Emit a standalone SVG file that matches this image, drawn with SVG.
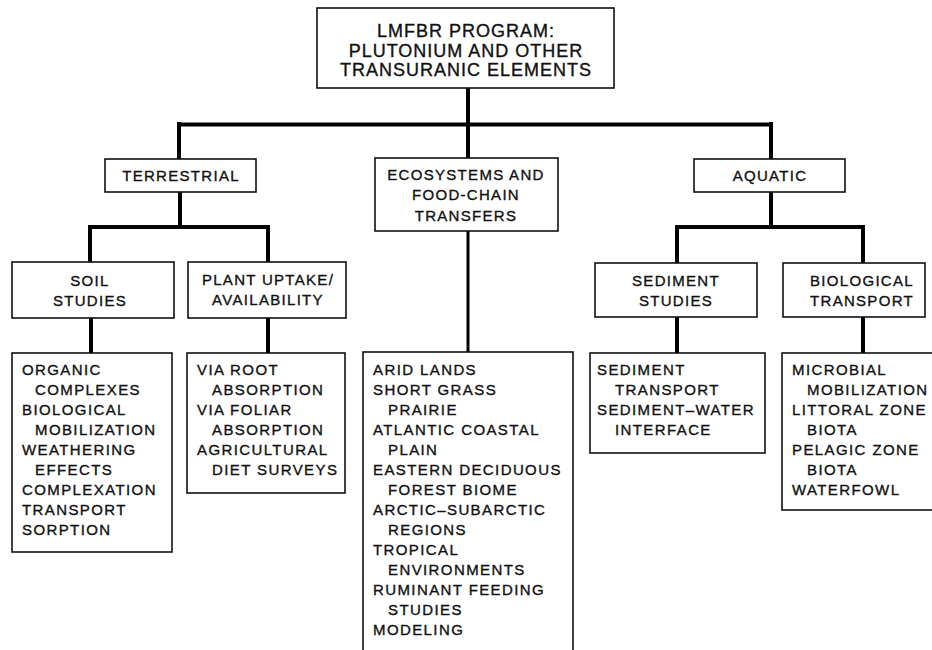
<svg xmlns="http://www.w3.org/2000/svg" width="932" height="650" viewBox="0 0 932 650">
<style>
  .box { fill: #ffffff; stroke: #111111; stroke-width: 1.6; }
  .conn { stroke: #000000; stroke-width: 4; fill: none; stroke-linecap: square; }
  .conn2 { stroke: #000000; stroke-width: 3; fill: none; }
  text { font-family: "Liberation Sans", Arial, sans-serif; fill: #111111; stroke: #111111; stroke-width: 0.35px; }
  .title { font-size: 18px; letter-spacing: 1px; text-anchor: middle; }
  .hdr { font-size: 15px; letter-spacing: 1.3px; text-anchor: middle; }
  .lst { font-size: 15px; letter-spacing: 1.4px; }
</style>
<rect width="932" height="650" fill="#ffffff"/>

<g id="connectors">
  <line class="conn" x1="468" y1="88" x2="468" y2="124"/>
  <line class="conn" x1="179" y1="124.5" x2="771" y2="124.5"/>
  <line class="conn" x1="179" y1="124" x2="179" y2="159"/>
  <line class="conn" x1="771" y1="124" x2="771" y2="159"/>
  <line class="conn" x1="468" y1="124" x2="468" y2="158"/>
  <line class="conn" x1="180" y1="192" x2="180" y2="227"/>
  <line class="conn" x1="90" y1="227" x2="268" y2="227"/>
  <line class="conn" x1="90" y1="227" x2="90" y2="262"/>
  <line class="conn" x1="268" y1="227" x2="268" y2="262"/>
  <line class="conn" x1="91" y1="318" x2="91" y2="353"/>
  <line class="conn" x1="268" y1="318" x2="268" y2="353"/>
  <line class="conn2" x1="468" y1="231" x2="468" y2="352"/>
  <line class="conn" x1="771" y1="192" x2="771" y2="227"/>
  <line class="conn" x1="677" y1="227" x2="863" y2="227"/>
  <line class="conn" x1="677" y1="227" x2="677" y2="263"/>
  <line class="conn" x1="863" y1="227" x2="863" y2="263"/>
  <line class="conn" x1="677" y1="317" x2="677" y2="353"/>
  <line class="conn" x1="863" y1="317" x2="863" y2="353"/>
</g>

<g id="root">
  <rect class="box" x="317" y="8" width="297" height="80"/>
  <text class="title" x="466" y="37">LMFBR PROGRAM:</text>
  <text class="title" x="466" y="56.5">PLUTONIUM AND OTHER</text>
  <text class="title" x="466" y="75.5">TRANSURANIC ELEMENTS</text>
</g>

<g id="terrestrial">
  <rect class="box" x="105" y="159" width="151" height="33"/>
  <text class="hdr" x="181" y="181">TERRESTRIAL</text>
</g>

<g id="ecosystems">
  <rect class="box" x="375" y="158" width="183" height="73"/>
  <text class="hdr" x="466" y="180">ECOSYSTEMS AND</text>
  <text class="hdr" x="466" y="200">FOOD-CHAIN</text>
  <text class="hdr" x="466" y="221">TRANSFERS</text>
</g>

<g id="aquatic">
  <rect class="box" x="694" y="159" width="151" height="33"/>
  <text class="hdr" x="770" y="181">AQUATIC</text>
</g>

<g id="soil-studies">
  <rect class="box" x="12" y="262" width="162" height="56"/>
  <text class="hdr" x="90" y="286">SOIL</text>
  <text class="hdr" x="90" y="306">STUDIES</text>
</g>

<g id="plant-uptake">
  <rect class="box" x="188" y="262" width="158" height="56"/>
  <text class="hdr" x="268" y="285">PLANT UPTAKE/</text>
  <text class="hdr" x="268" y="305">AVAILABILITY</text>
</g>

<g id="sediment-studies">
  <rect class="box" x="595" y="263" width="162" height="54"/>
  <text class="hdr" x="676" y="286">SEDIMENT</text>
  <text class="hdr" x="676" y="306">STUDIES</text>
</g>

<g id="biological-transport">
  <rect class="box" x="783" y="263" width="142" height="54"/>
  <text class="hdr" x="862" y="286">BIOLOGICAL</text>
  <text class="hdr" x="862" y="306">TRANSPORT</text>
</g>

<g id="soil-list">
  <rect class="box" x="12" y="353" width="160" height="199"/>
  <text class="lst" x="22" y="375">ORGANIC</text>
  <text class="lst" x="35" y="395">COMPLEXES</text>
  <text class="lst" x="22" y="415">BIOLOGICAL</text>
  <text class="lst" x="35" y="435">MOBILIZATION</text>
  <text class="lst" x="22" y="455">WEATHERING</text>
  <text class="lst" x="35" y="475">EFFECTS</text>
  <text class="lst" x="22" y="495">COMPLEXATION</text>
  <text class="lst" x="22" y="515">TRANSPORT</text>
  <text class="lst" x="22" y="535">SORPTION</text>
</g>

<g id="plant-list">
  <rect class="box" x="187" y="353" width="158" height="140"/>
  <text class="lst" x="197" y="375">VIA ROOT</text>
  <text class="lst" x="212" y="395">ABSORPTION</text>
  <text class="lst" x="197" y="415">VIA FOLIAR</text>
  <text class="lst" x="212" y="435">ABSORPTION</text>
  <text class="lst" x="197" y="455">AGRICULTURAL</text>
  <text class="lst" x="212" y="475">DIET SURVEYS</text>
</g>

<g id="ecosystems-list">
  <rect class="box" x="363" y="352" width="210" height="310"/>
  <text class="lst" x="373" y="375">ARID LANDS</text>
  <text class="lst" x="373" y="395">SHORT GRASS</text>
  <text class="lst" x="388" y="415">PRAIRIE</text>
  <text class="lst" x="373" y="435">ATLANTIC COASTAL</text>
  <text class="lst" x="388" y="455">PLAIN</text>
  <text class="lst" x="373" y="475">EASTERN DECIDUOUS</text>
  <text class="lst" x="388" y="495">FOREST BIOME</text>
  <text class="lst" x="373" y="515">ARCTIC–SUBARCTIC</text>
  <text class="lst" x="388" y="535">REGIONS</text>
  <text class="lst" x="373" y="555">TROPICAL</text>
  <text class="lst" x="388" y="575">ENVIRONMENTS</text>
  <text class="lst" x="373" y="595">RUMINANT FEEDING</text>
  <text class="lst" x="388" y="615">STUDIES</text>
  <text class="lst" x="373" y="635">MODELING</text>
</g>

<g id="sediment-list">
  <rect class="box" x="590" y="353" width="175" height="100"/>
  <text class="lst" x="597" y="375">SEDIMENT</text>
  <text class="lst" x="615" y="395">TRANSPORT</text>
  <text class="lst" x="597" y="415">SEDIMENT–WATER</text>
  <text class="lst" x="615" y="435">INTERFACE</text>
</g>

<g id="biological-list">
  <rect class="box" x="782" y="353" width="160" height="157"/>
  <text class="lst" x="792" y="375">MICROBIAL</text>
  <text class="lst" x="807" y="395">MOBILIZATION</text>
  <text class="lst" x="792" y="415">LITTORAL ZONE</text>
  <text class="lst" x="807" y="435">BIOTA</text>
  <text class="lst" x="792" y="455">PELAGIC ZONE</text>
  <text class="lst" x="807" y="475">BIOTA</text>
  <text class="lst" x="792" y="495">WATERFOWL</text>
</g>
</svg>
